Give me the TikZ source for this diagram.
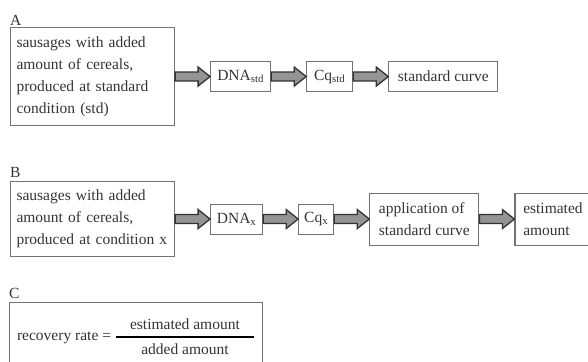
\documentclass[tikz,border=0pt]{standalone}
\usepackage{amsmath}
\usepackage{fontspec}
\setmainfont{Liberation Serif}
\usetikzlibrary{positioning, calc}

% block arrow from the east side of #1 to the west side of #2
\newcommand{\flowarrow}[2]{%
  \draw[blockarrow] ($(#1.east |- #2.west)+(0pt,4.5pt)$) -- ($(#2.west)+(-12pt,4.5pt)$)
    -- ($(#2.west)+(-12pt,9.5pt)$) -- (#2.west) -- ($(#2.west)+(-12pt,-9.5pt)$)
    -- ($(#2.west)+(-12pt,-4.5pt)$) -- ($(#1.east |- #2.west)+(0pt,-4.5pt)$) -- cycle;}

\begin{document}
\begin{tikzpicture}[
    x=1pt, y=-1pt,
    node distance=35pt,
    every node/.style={font=\fontsize{15.5}{22}\selectfont, text=black!80},
    srcbox/.style={rectangle, draw=black!55, line width=1.1pt, anchor=north west, text width=152pt, inner xsep=6pt, align=left},
    stepbox/.style={rectangle, draw=black!55, line width=1.1pt, minimum height=30pt, inner xsep=5pt, align=left},
    blockarrow/.style={draw=black!80, fill=black!42, line width=1.3pt, line join=miter},
    panel/.style={anchor=base west, inner sep=0pt}
]
\clip (0,0) rectangle (588,361);

% --- A: standard curve ---
\node[panel] (labA) at (10,26) {A};
\node[srcbox, minimum height=98pt] (srcA) at (10,27) {sausages with added\\amount of cereals,\\produced at standard\\condition (std)};
\node[stepbox, minimum width=60pt, right=of srcA] (dnaA) {DNA\textsubscript{std}};
\node[stepbox, minimum width=46pt, right=of dnaA] (cqA) {Cq\textsubscript{std}};
\node[stepbox, minimum width=109pt, right=of cqA] (curveA) {standard curve};

\flowarrow{srcA}{dnaA}
\flowarrow{dnaA}{cqA}
\flowarrow{cqA}{curveA}

% --- B: condition x ---
\node[panel] (labB) at (10,177) {B};
\node[srcbox, minimum height=75pt] (srcB) at (10,181) {sausages with added\\amount of cereals,\\produced at condition x};
\node[stepbox, minimum width=52pt, right=of srcB] (dnaB) {DNA\textsubscript{x}};
\node[stepbox, minimum width=35pt, right=of dnaB] (cqB) {Cq\textsubscript{x}};
\node[stepbox, minimum width=109pt, minimum height=52pt, right=of cqB] (applyB) {application of\\standard curve};
\node[stepbox, minimum width=76pt, minimum height=52pt, right=of applyB] (estB) {estimated\\amount};

\flowarrow{srcB}{dnaB}
\flowarrow{dnaB}{cqB}
\flowarrow{cqB}{applyB}
\flowarrow{applyB}{estB}

% --- C: recovery rate ---
\node[panel] (labC) at (9,298) {C};
\node[rectangle, draw=black!55, line width=1.1pt, anchor=north west, minimum width=253pt, minimum height=68pt] (rate) at (9,302)
  {recovery rate = {\color{black}$\genfrac{}{}{2pt}{0}{\text{\color{black!80}\hspace{14pt}estimated amount\hspace{14pt}}}{\text{\color{black!80}added amount}}$}};
\end{tikzpicture}
\end{document}
